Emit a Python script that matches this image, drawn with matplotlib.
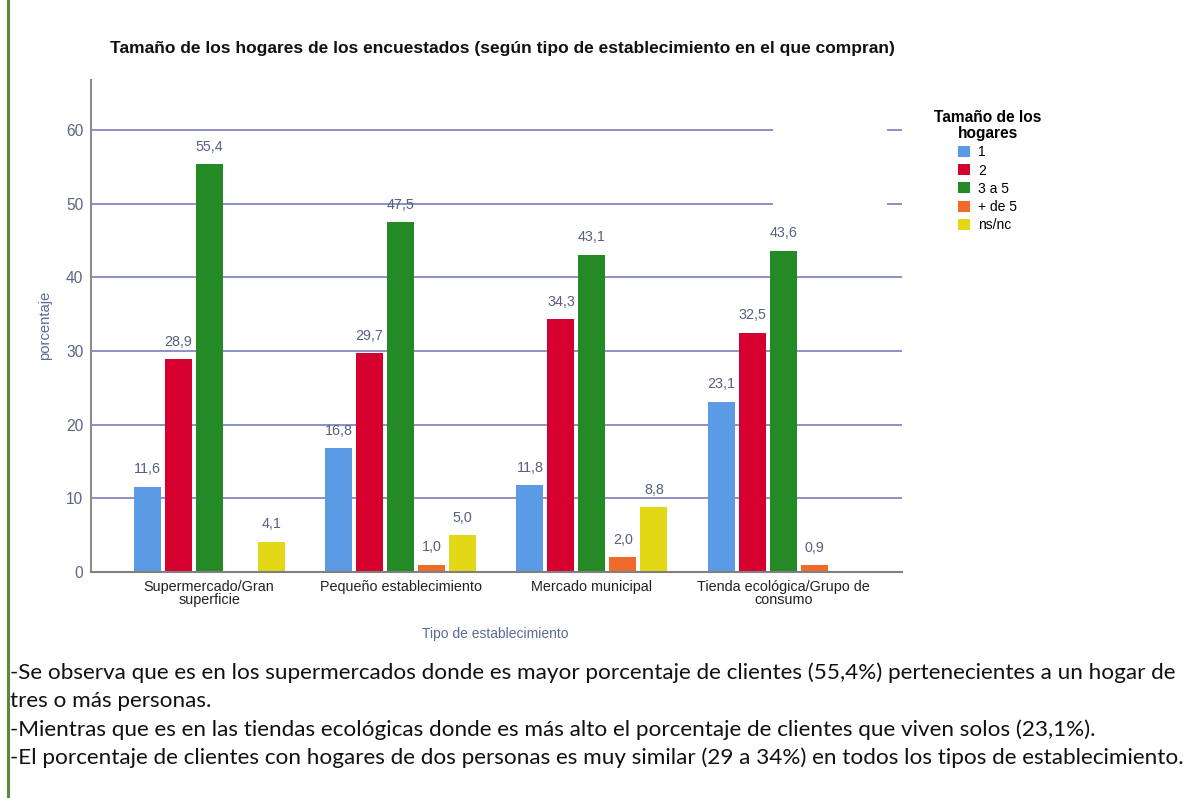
import numpy as np
import matplotlib
matplotlib.use("Agg")
import matplotlib.pyplot as plt
from matplotlib.lines import Line2D
from matplotlib.patches import Rectangle, Patch

categories = ["Supermercado/Gran\nsuperficie", "Pequeño establecimiento",
              "Mercado municipal", "Tienda ecológica/Grupo de\nconsumo"]
series_names = ["1", "2", "3 a 5", "+ de 5", "ns/nc"]
s_1 = [11.6, 16.8, 11.8, 23.1]
s_2 = [28.9, 29.7, 34.3, 32.5]
s_3a5 = [55.4, 47.5, 43.1, 43.6]
s_mas5 = [np.nan, 1.0, 2.0, 0.9]
s_nsnc = [4.1, 5.0, 8.8, np.nan]
yticks = [0, 10, 20, 30, 40, 50, 60]

title = "Tamaño de los hogares de los encuestados (según tipo de establecimiento en el que compran)"
notes = [
    "-Se observa que es en los supermercados donde es mayor porcentaje de clientes (55,4%) pertenecientes a un hogar de",
    "tres o más personas.",
    "-Mientras que es en las tiendas ecológicas donde es más alto el porcentaje de clientes que viven solos (23,1%).",
    "-El porcentaje de clientes con hogares de dos personas es muy similar (29 a 34%) en todos los tipos de establecimiento.",
]

colors = ["#5b9be6", "#d6002f", "#238a25", "#f2692c", "#e2d816"]
series = [s_1, s_2, s_3a5, s_mas5, s_nsnc]

W, H = 1203, 798
fig = plt.figure(figsize=(W / 100, H / 100), dpi=100)
fig.patch.set_facecolor("white")

ax_l, ax_r, ax_b, ax_t = 91, 902, 572, 80
ax = fig.add_axes([ax_l / W, 1 - ax_b / H, (ax_r - ax_l) / W, (ax_b - ax_t) / H])

x = np.arange(len(categories))
step = 0.162
width = 0.141
label_col = "#55607e"
for i, (vals, c) in enumerate(zip(series, colors)):
    pos = x + (i - 2) * step
    v = np.array(vals, dtype=float)
    ax.bar(pos, np.nan_to_num(v), width=width, color=c, zorder=3,
           edgecolor="none")
    for p, val in zip(pos, v):
        if not np.isnan(val):
            ax.annotate(f"{val:.1f}".replace(".", ","), (p, val),
                        xytext=(0, 7.5), textcoords="offset points",
                        ha="center", va="bottom", fontsize=10.3,
                        color=label_col, family="Liberation Sans", zorder=4)

ax.set_xlim(-0.617, 3.62)
ax.set_ylim(0, 66.8)
for t in yticks[1:]:
    ax.axhline(t, color="#8188c2", lw=1.3, zorder=1)
# white legend backdrop covering part of upper gridlines
ax.add_patch(Rectangle((0.841, 0.74), 0.14, 0.2, transform=ax.transAxes,
                       facecolor="white", edgecolor="none", zorder=2))

for s in ["top", "right"]:
    ax.spines[s].set_visible(False)
ax.spines["left"].set_color("#8c8c8c")
ax.spines["bottom"].set_color("#808080")
ax.spines["left"].set_linewidth(1.5)
ax.spines["bottom"].set_linewidth(1.5)
ax.spines["bottom"].set_zorder(5)

ax.set_yticks(yticks)
ax.set_yticklabels([str(t) for t in yticks], fontsize=11.2, color="#5a6585",
                   family="Liberation Sans")
ax.tick_params(axis="y", length=0, pad=5.5)
ax.set_xticks(x)
ax.set_xticklabels(categories, fontsize=10.4, color="#222222",
                   family="Liberation Sans", linespacing=0.9)
ax.tick_params(axis="x", length=0, pad=5.5)

fig.text(45 / W, 1 - 325 / H, "porcentaje", rotation=90, ha="center",
         va="center", fontsize=10.6, color="#5a6a9a", family="Liberation Sans")
fig.text(495 / W, 1 - 634 / H, "Tipo de establecimiento", ha="center",
         va="center", fontsize=10, color="#5a6a9a", family="Liberation Sans")
fig.text(502 / W, 1 - 48 / H, title, ha="center", va="center",
         fontsize=12.5, fontweight="bold", color="#111111",
         family="Liberation Sans")

handles = [Patch(facecolor=c, edgecolor="none") for c in colors]
leg = fig.legend(handles, series_names, title="Tamaño de los\nhogares",
                 loc="upper left", bbox_to_anchor=(934 / W, 1 - 110 / H),
                 frameon=False,
                 handlelength=0.85, handleheight=0.85, handletextpad=0.6,
                 labelspacing=0.3, borderaxespad=0, borderpad=0,
                 prop={"family": "Liberation Sans", "size": 10},
                 title_fontproperties={"family": "Liberation Sans",
                                       "size": 11.2, "weight": "bold"})
leg.get_title().set_multialignment("center")
leg.get_title().set_linespacing(1.1)

ys = [673, 701, 730, 758]
for t, yy in zip(notes, ys):
    fig.text(10 / W, 1 - yy / H, t, ha="left", va="center", fontsize=16.2,
             color="#111111", family="Lato")

fig.add_artist(Line2D([7.5 / W, 7.5 / W], [0, 1], color="#5b8a3c", lw=2.2,
                      transform=fig.transFigure))

fig.savefig("out.png", dpi=100)
